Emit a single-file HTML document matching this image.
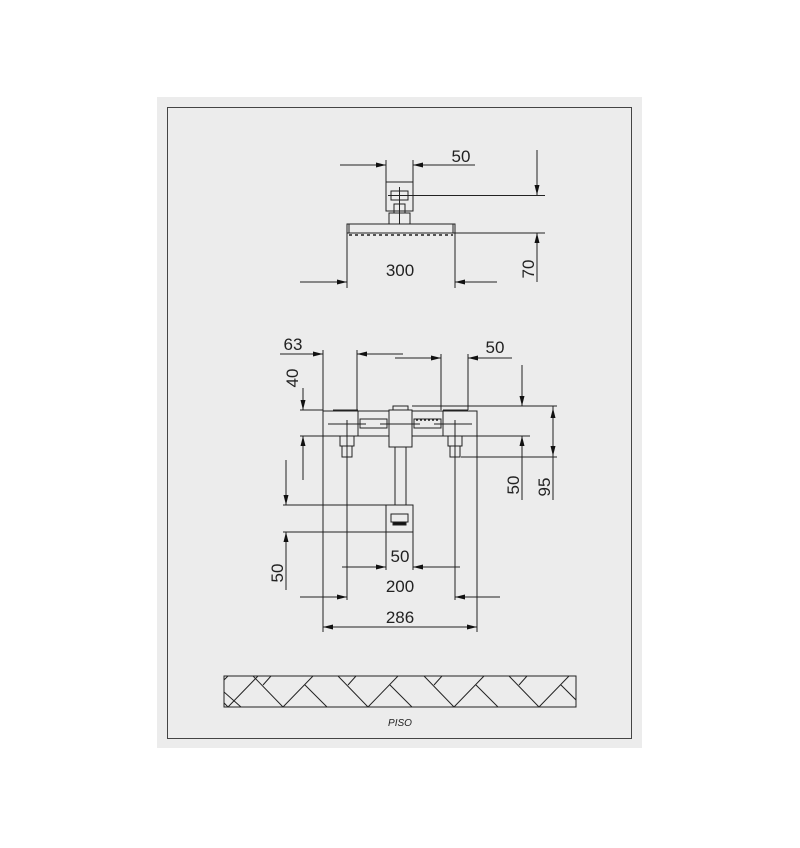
<!DOCTYPE html>
<html><head><meta charset="utf-8"><style>
html,body{margin:0;padding:0;background:#fff;}
svg{display:block;}
text{font-family:"Liberation Sans",sans-serif;fill:#222;}
</style></head><body>
<svg width="800" height="848" viewBox="0 0 800 848" xmlns="http://www.w3.org/2000/svg">
<defs>
<marker id="a" viewBox="0 0 10 6" refX="10" refY="3" markerWidth="16" markerHeight="6" markerUnits="userSpaceOnUse" orient="auto"><path d="M0,0.5L10,3L0,5.5Z" fill="#111"/></marker>
<clipPath id="fc"><rect x="224" y="676" width="352" height="31"/></clipPath>
</defs>
<rect x="157" y="97" width="485" height="651" fill="#ececec"/>
<rect x="167.5" y="107.5" width="464" height="631" fill="none" stroke="#444" stroke-width="1"/>
<g stroke="#222" stroke-width="1" fill="none">
<line x1="340" y1="165" x2="386" y2="165" marker-end="url(#a)"/>
<line x1="475" y1="165" x2="413" y2="165" marker-end="url(#a)"/>
<line x1="386" y1="160" x2="386" y2="182"/><line x1="413" y1="160" x2="413" y2="182"/>
<rect x="386" y="182" width="27" height="29"/>
<rect x="391" y="191" width="17" height="9"/>
<line x1="399.5" y1="187" x2="399.5" y2="224"/><line x1="388" y1="195.5" x2="545" y2="195.5"/>
<rect x="394" y="204" width="11" height="9"/>
<rect x="389" y="213" width="21" height="11"/>
<rect x="347" y="224" width="108" height="9"/>
<line x1="349" y1="224" x2="349" y2="233"/><line x1="453" y1="224" x2="453" y2="233"/>
<line x1="349" y1="235" x2="453" y2="235" stroke-dasharray="3,3" stroke-width="1.5"/>
<line x1="455" y1="233" x2="545" y2="233"/>
<line x1="347" y1="233" x2="347" y2="288"/><line x1="455" y1="233" x2="455" y2="288"/>
<line x1="300" y1="282" x2="347" y2="282" marker-end="url(#a)"/>
<line x1="497" y1="282" x2="455" y2="282" marker-end="url(#a)"/>
<line x1="537" y1="150" x2="537" y2="195" marker-end="url(#a)"/>
<line x1="537" y1="282" x2="537" y2="233" marker-end="url(#a)"/>
<line x1="280" y1="354" x2="323" y2="354" marker-end="url(#a)"/>
<line x1="403" y1="354" x2="357" y2="354" marker-end="url(#a)"/>
<line x1="395" y1="358" x2="441" y2="358" marker-end="url(#a)"/>
<line x1="512" y1="358" x2="468" y2="358" marker-end="url(#a)"/>
<line x1="323" y1="350" x2="323" y2="632"/>
<line x1="357" y1="350" x2="357" y2="410"/>
<line x1="441" y1="354" x2="441" y2="410"/>
<line x1="468" y1="354" x2="468" y2="410"/>
<line x1="477" y1="436" x2="477" y2="632"/>
<rect x="323" y="411" width="35" height="25"/>
<line x1="333" y1="410" x2="358" y2="410"/>
<rect x="358" y="411" width="31" height="25"/>
<rect x="360" y="419" width="27" height="9"/>
<rect x="389" y="410" width="23" height="37"/>
<rect x="393" y="406" width="15" height="4"/>
<rect x="412" y="411" width="31" height="25"/>
<rect x="414" y="419" width="27" height="9"/>
<line x1="416" y1="420" x2="439" y2="420" stroke-dasharray="2,2" stroke-width="1.5"/>
<rect x="443" y="411" width="34" height="25"/>
<line x1="443" y1="410" x2="468" y2="410"/>
<line x1="328" y1="424" x2="366" y2="424"/><line x1="380" y1="424" x2="420" y2="424"/><line x1="434" y1="424" x2="472" y2="424"/>
<rect x="340" y="436" width="14" height="10"/><rect x="342" y="446" width="10" height="11"/>
<rect x="448" y="436" width="14" height="10"/><rect x="450" y="446" width="10" height="11"/>
<line x1="347" y1="420" x2="347" y2="600"/><line x1="455" y1="420" x2="455" y2="600"/>
<line x1="395" y1="447" x2="395" y2="505"/><line x1="406" y1="447" x2="406" y2="505"/>
<rect x="386" y="505" width="27" height="27"/>
<rect x="391" y="514" width="17" height="8"/>
<path d="M393,522 h13 v3 h-13z" fill="#111"/>
<line x1="300" y1="410" x2="323" y2="410"/><line x1="300" y1="436" x2="323" y2="436"/>
<line x1="303" y1="388" x2="303" y2="410" marker-end="url(#a)"/>
<line x1="303" y1="480" x2="303" y2="436" marker-end="url(#a)"/>
<line x1="412" y1="406" x2="557" y2="406"/>
<line x1="477" y1="436" x2="530" y2="436"/>
<line x1="461" y1="457" x2="557" y2="457"/>
<line x1="522" y1="365" x2="522" y2="406" marker-end="url(#a)"/>
<line x1="522" y1="500" x2="522" y2="436" marker-end="url(#a)"/>
<line x1="553" y1="406" x2="553" y2="500"/>
<line x1="553" y1="432" x2="553" y2="408" marker-end="url(#a)"/>
<line x1="553" y1="432" x2="553" y2="456" marker-end="url(#a)"/>
<line x1="283" y1="505" x2="386" y2="505"/><line x1="283" y1="532" x2="386" y2="532"/>
<line x1="286" y1="460" x2="286" y2="505" marker-end="url(#a)"/>
<line x1="286" y1="590" x2="286" y2="532" marker-end="url(#a)"/>
<line x1="386" y1="532" x2="386" y2="570"/><line x1="413" y1="532" x2="413" y2="570"/>
<line x1="342" y1="567" x2="386" y2="567" marker-end="url(#a)"/>
<line x1="460" y1="567" x2="413" y2="567" marker-end="url(#a)"/>
<line x1="300" y1="597" x2="347" y2="597" marker-end="url(#a)"/>
<line x1="500" y1="597" x2="455" y2="597" marker-end="url(#a)"/>
<line x1="400" y1="627" x2="323" y2="627" marker-end="url(#a)"/>
<line x1="400" y1="627" x2="477" y2="627" marker-end="url(#a)"/>
<rect x="224" y="676" width="352" height="31"/>
<g clip-path="url(#fc)">
<path d="M198,676 L228,707 L258,676 M180,685 L202,707 M213,685 L222,676
M283,707 L253,676 M283,707 L313,676 M263,685 L271,676 M305,685 L327,707
M368,707 L338,676 M368,707 L398,676 M348,685 L356,676 M390,685 L412,707
M454,707 L424,676 M454,707 L484,676 M434,685 L442,676 M476,685 L498,707
M539,707 L509,676 M539,707 L569,676 M519,685 L527,676 M561,685 L583,707
M224,692 L241,707 M224,680 L228,676"/>
</g>
</g>
<text x="461" y="162" font-size="17" text-anchor="middle">50</text>
<text x="400" y="276" font-size="17" text-anchor="middle">300</text>
<text transform="translate(534,269) rotate(-90)" font-size="17" text-anchor="middle">70</text>
<text x="293" y="350" font-size="17" text-anchor="middle">63</text>
<text x="495" y="353" font-size="17" text-anchor="middle">50</text>
<text transform="translate(298,378) rotate(-90)" font-size="17" text-anchor="middle">40</text>
<text transform="translate(519,485) rotate(-90)" font-size="17" text-anchor="middle">50</text>
<text transform="translate(550,487) rotate(-90)" font-size="17" text-anchor="middle">95</text>
<text transform="translate(283,573) rotate(-90)" font-size="17" text-anchor="middle">50</text>
<text x="400" y="562" font-size="17" text-anchor="middle">50</text>
<text x="400" y="592" font-size="17" text-anchor="middle">200</text>
<text x="400" y="623" font-size="17" text-anchor="middle">286</text>
<text x="400" y="726" font-size="10" font-style="italic" text-anchor="middle">PISO</text>
</svg>
</body></html>
